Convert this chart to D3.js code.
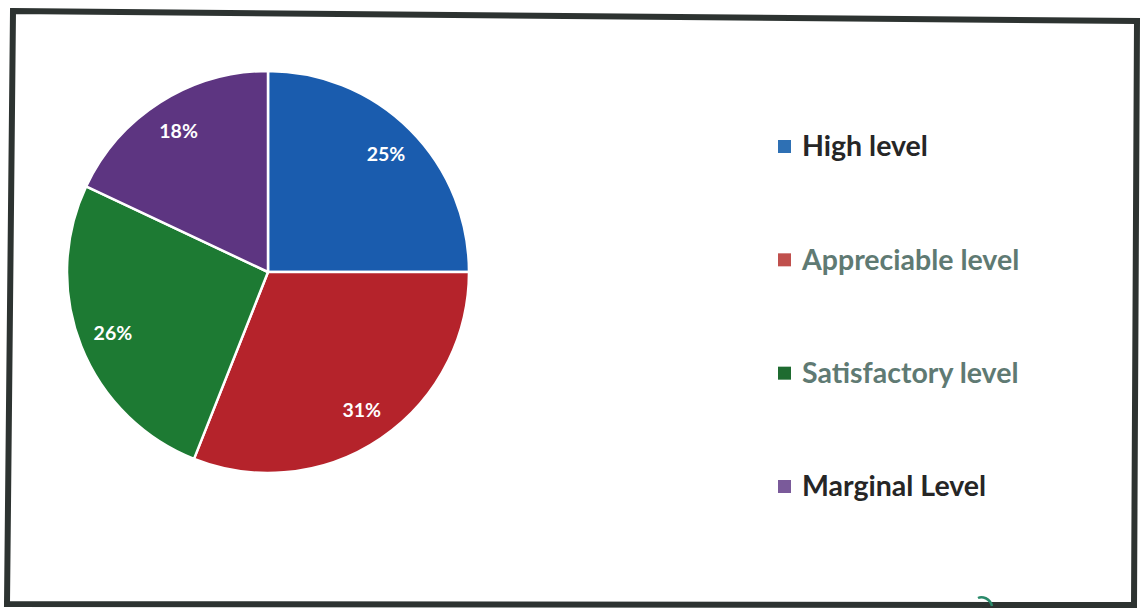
<!DOCTYPE html>
<html><head><meta charset="utf-8">
<script src="https://cdn.jsdelivr.net/npm/d3@7"></script>
<style>html,body{margin:0;padding:0;background:#fff;}svg{display:block;}</style>
</head><body>
<svg id="chart" width="1141" height="610"></svg>
<script>
const categories = ["High level", "Appreciable level", "Satisfactory level", "Marginal Level"];
const values = [25, 31, 26, 18];
const labels = ["25%", "31%", "26%", "18%"];
const sliceColors = ["#1a5cae", "#b5232b", "#1d7a33", "#5d3581"];
const swatchColors = ["#2e70b4", "#c0504d", "#1e6b30", "#7a5a9a"];
const legendTextColors = ["#262626", "#5f7a73", "#5f7a73", "#262626"];

const svg = d3.select("#chart");
svg.append("rect").attr("width",1141).attr("height",610).attr("fill","#fff");

// scanned frame
svg.append("path")
  .attr("d","M13,11 L1137,21 L1134,605 L7,604 Z")
  .attr("fill","none").attr("stroke","#2d3331").attr("stroke-width",6)
  .attr("stroke-linejoin","miter");
// small green pen mark at bottom
svg.append("path").attr("d","M978,598 C982,596 990,598 992,606")
  .attr("fill","none").attr("stroke","#2a8a6a").attr("stroke-width",2.5);

const cx = 268, cy = 272, R = 201;
const pie = d3.pie().sort(null).value(d => d)(values);
const arc = d3.arc().innerRadius(0).outerRadius(R);
const labelArc = d3.arc().innerRadius(R*0.83).outerRadius(R*0.83);

const g = svg.append("g").attr("transform",`translate(${cx},${cy})`);
g.selectAll("path.slice").data(pie).enter().append("path")
  .attr("class","slice")
  .attr("d",arc)
  .attr("fill",(d,i)=>sliceColors[i])
  .attr("stroke","#fff").attr("stroke-width",2.5).attr("stroke-linejoin","round");

g.selectAll("text.lbl").data(pie).enter().append("text")
  .attr("class","lbl")
  .attr("transform",d=>{const c=labelArc.centroid(d);return `translate(${c[0]},${c[1]})`;})
  .attr("text-anchor","middle").attr("dy","0.35em")
  .attr("fill","#fff").attr("font-family","Lato, 'Open Sans', sans-serif")
  .attr("font-weight","bold").attr("font-size",19.5)
  .text((d,i)=>labels[i]);

// legend
const legendY = d3.scalePoint().domain(categories).range([146, 486]);
const lg = svg.append("g");
const items = lg.selectAll("g").data(categories).enter().append("g")
  .attr("transform",d=>`translate(778,${legendY(d)})`);
items.append("rect").attr("x",0).attr("y",-6).attr("width",13).attr("height",13)
  .attr("fill",(d,i)=>swatchColors[i]);
items.append("text").attr("x",24).attr("dy","0.36em")
  .attr("font-family","Lato, 'Open Sans', sans-serif").attr("font-weight","bold")
  .attr("font-size",28.5)
  .attr("fill",(d,i)=>legendTextColors[i])
  .text(d=>d);
</script>
</body></html>
